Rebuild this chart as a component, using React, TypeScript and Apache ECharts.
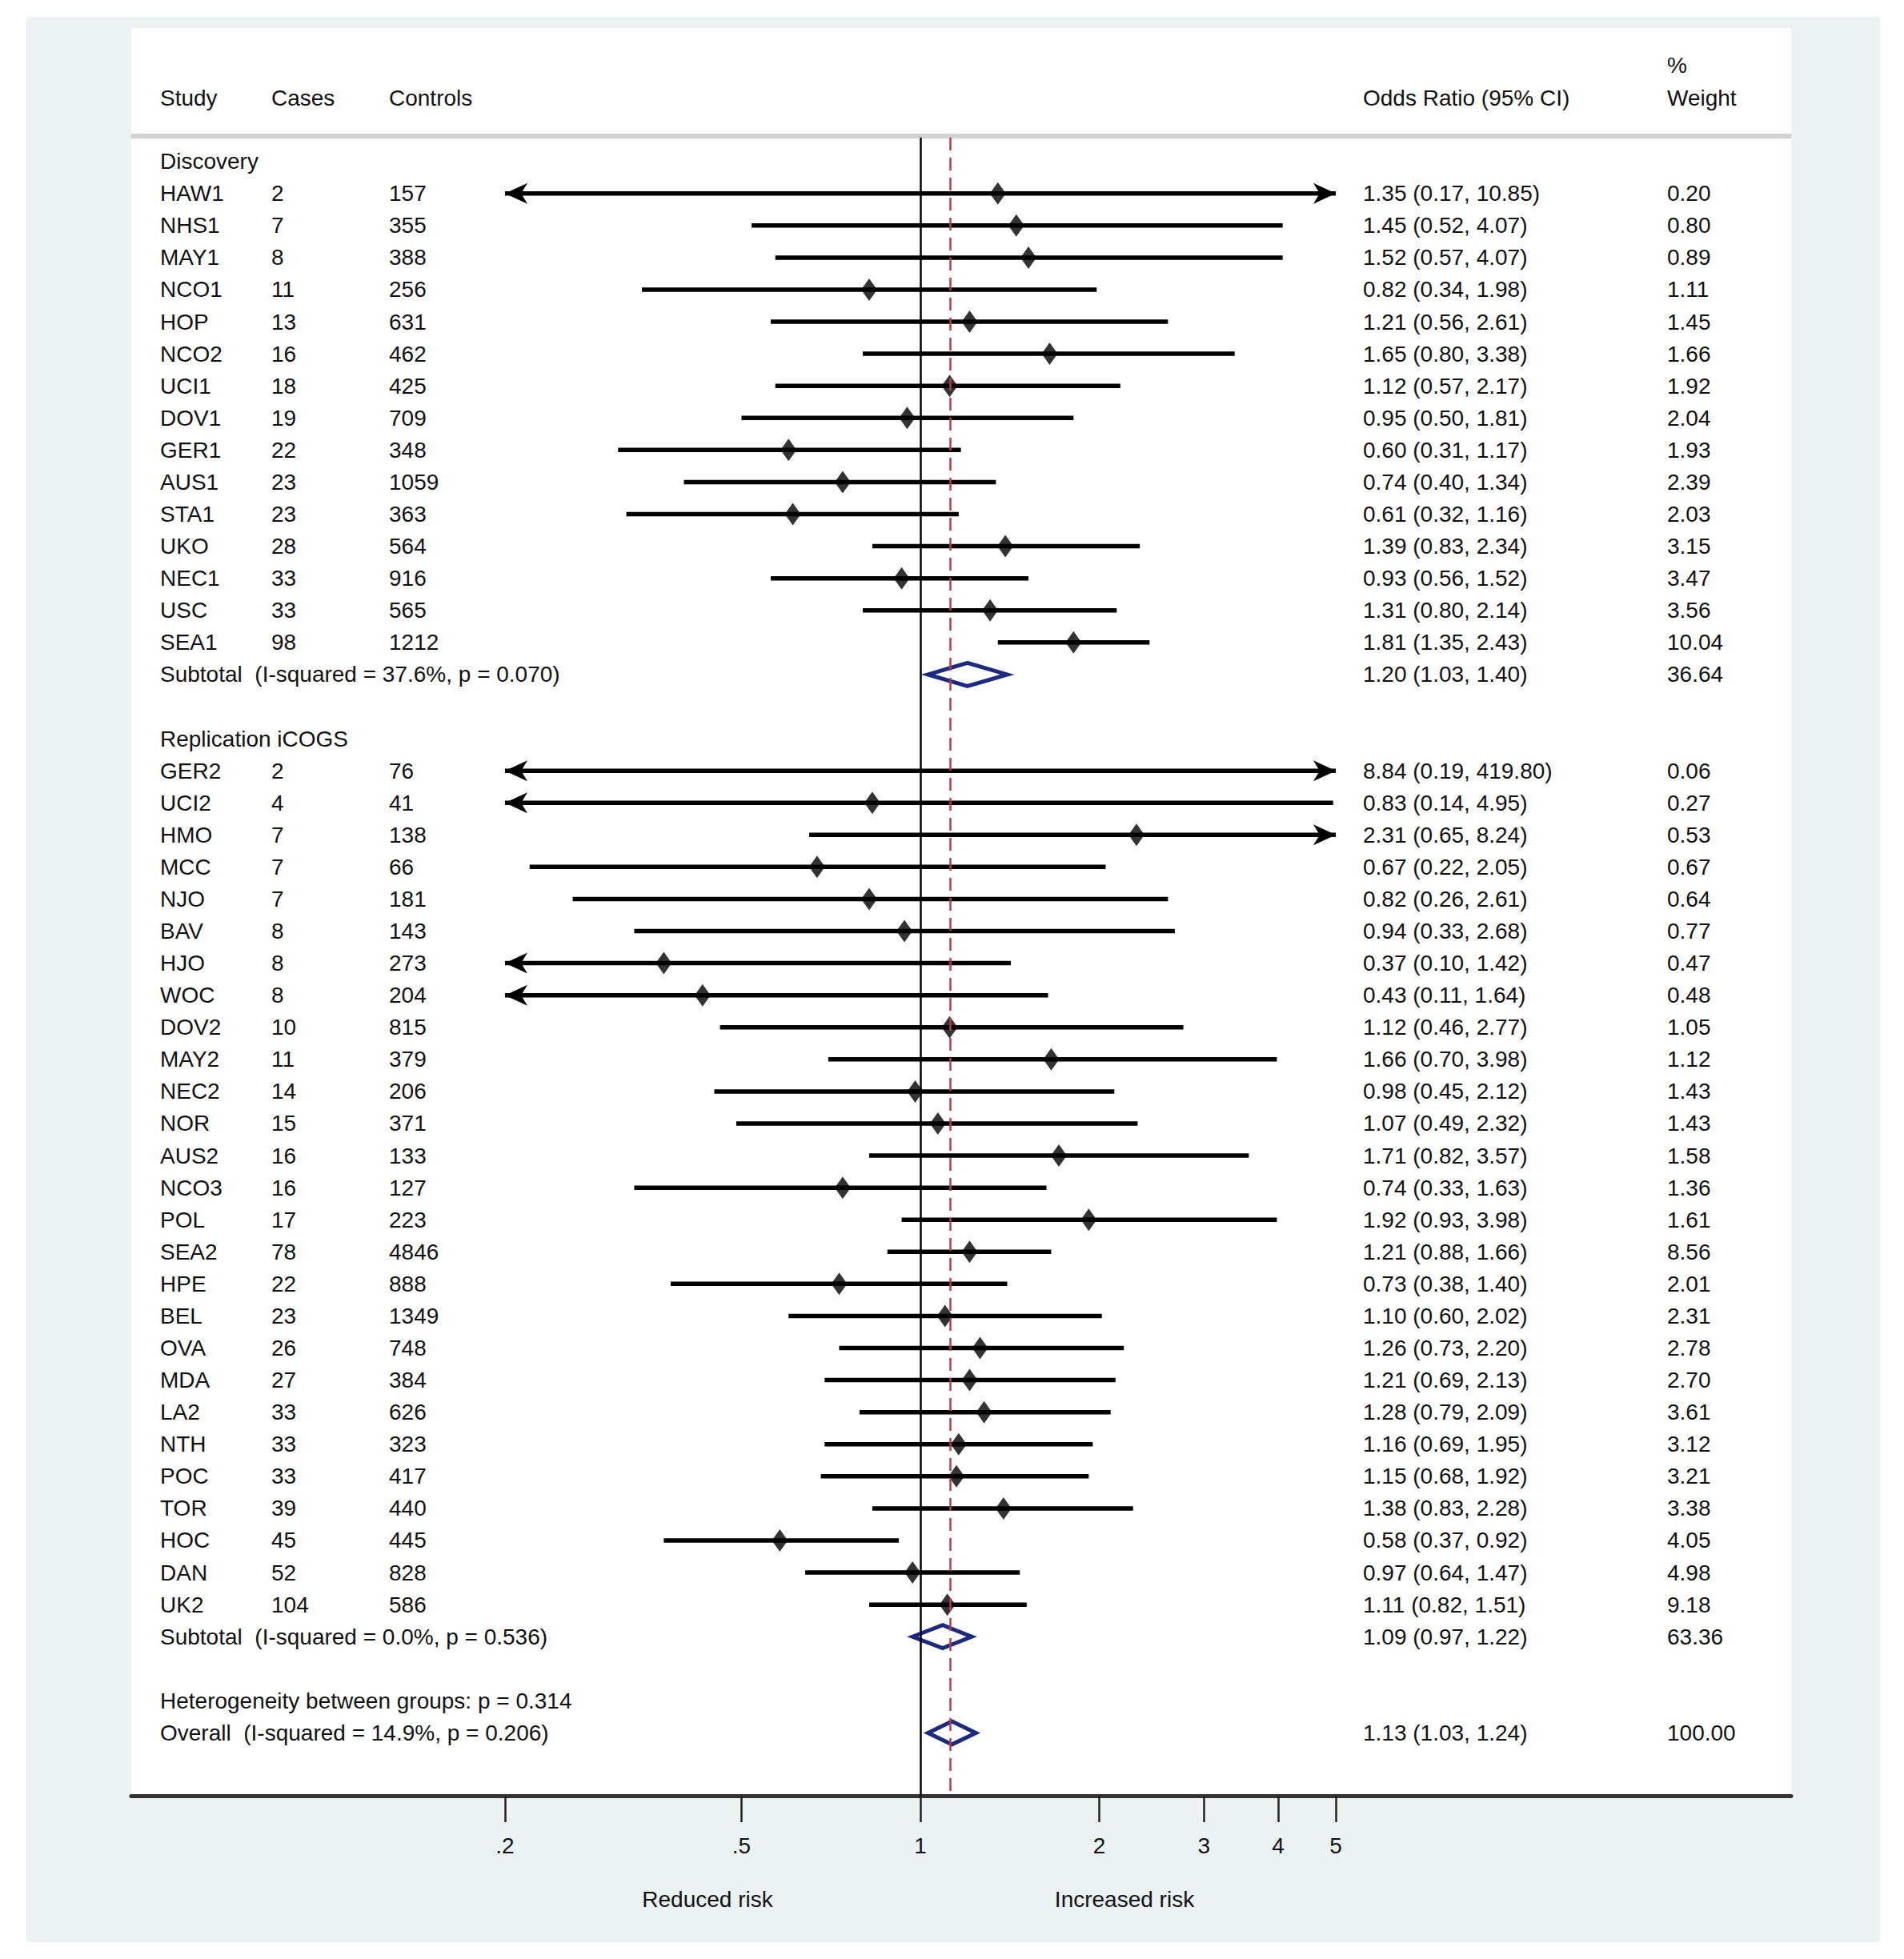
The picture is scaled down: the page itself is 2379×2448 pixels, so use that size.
import React, { useEffect, useRef } from "react";
import * as echarts from "echarts";

// ---------------- DATA ----------------
const discoveryStudies = ["HAW1", "NHS1", "MAY1", "NCO1", "HOP", "NCO2", "UCI1", "DOV1", "GER1", "AUS1", "STA1", "UKO", "NEC1", "USC", "SEA1"];
const discoveryCases = [2, 7, 8, 11, 13, 16, 18, 19, 22, 23, 23, 28, 33, 33, 98];
const discoveryControls = [157, 355, 388, 256, 631, 462, 425, 709, 348, 1059, 363, 564, 916, 565, 1212];
const discoveryOR = [1.35, 1.45, 1.52, 0.82, 1.21, 1.65, 1.12, 0.95, 0.6, 0.74, 0.61, 1.39, 0.93, 1.31, 1.81];
const discoveryLower = [0.17, 0.52, 0.57, 0.34, 0.56, 0.8, 0.57, 0.5, 0.31, 0.4, 0.32, 0.83, 0.56, 0.8, 1.35];
const discoveryUpper = [10.85, 4.07, 4.07, 1.98, 2.61, 3.38, 2.17, 1.81, 1.17, 1.34, 1.16, 2.34, 1.52, 2.14, 2.43];
const discoveryWeight = [0.2, 0.8, 0.89, 1.11, 1.45, 1.66, 1.92, 2.04, 1.93, 2.39, 2.03, 3.15, 3.47, 3.56, 10.04];

const replicationStudies = ["GER2", "UCI2", "HMO", "MCC", "NJO", "BAV", "HJO", "WOC", "DOV2", "MAY2", "NEC2", "NOR", "AUS2", "NCO3", "POL", "SEA2", "HPE", "BEL", "OVA", "MDA", "LA2", "NTH", "POC", "TOR", "HOC", "DAN", "UK2"];
const replicationCases = [2, 4, 7, 7, 7, 8, 8, 8, 10, 11, 14, 15, 16, 16, 17, 78, 22, 23, 26, 27, 33, 33, 33, 39, 45, 52, 104];
const replicationControls = [76, 41, 138, 66, 181, 143, 273, 204, 815, 379, 206, 371, 133, 127, 223, 4846, 888, 1349, 748, 384, 626, 323, 417, 440, 445, 828, 586];
const replicationOR = [8.84, 0.83, 2.31, 0.67, 0.82, 0.94, 0.37, 0.43, 1.12, 1.66, 0.98, 1.07, 1.71, 0.74, 1.92, 1.21, 0.73, 1.1, 1.26, 1.21, 1.28, 1.16, 1.15, 1.38, 0.58, 0.97, 1.11];
const replicationLower = [0.19, 0.14, 0.65, 0.22, 0.26, 0.33, 0.1, 0.11, 0.46, 0.7, 0.45, 0.49, 0.82, 0.33, 0.93, 0.88, 0.38, 0.6, 0.73, 0.69, 0.79, 0.69, 0.68, 0.83, 0.37, 0.64, 0.82];
const replicationUpper = [419.8, 4.95, 8.24, 2.05, 2.61, 2.68, 1.42, 1.64, 2.77, 3.98, 2.12, 2.32, 3.57, 1.63, 3.98, 1.66, 1.4, 2.02, 2.2, 2.13, 2.09, 1.95, 1.92, 2.28, 0.92, 1.47, 1.51];
const replicationWeight = [0.06, 0.27, 0.53, 0.67, 0.64, 0.77, 0.47, 0.48, 1.05, 1.12, 1.43, 1.43, 1.58, 1.36, 1.61, 8.56, 2.01, 2.31, 2.78, 2.7, 3.61, 3.12, 3.21, 3.38, 4.05, 4.98, 9.18];

const summaryLabels = [
  "Subtotal  (I-squared = 37.6%, p = 0.070)",
  "Subtotal  (I-squared = 0.0%, p = 0.536)",
  "Overall  (I-squared = 14.9%, p = 0.206)",
];
const summaryOR = [1.2, 1.09, 1.13];
const summaryLower = [1.03, 0.97, 1.03];
const summaryUpper = [1.4, 1.22, 1.24];
const summaryWeight = [36.64, 63.36, 100.0];

const groupLabels = ["Discovery", "Replication iCOGS"];
const heterogeneityLabel = "Heterogeneity between groups: p = 0.314";
const columnHeaders = ["Study", "Cases", "Controls", "Odds Ratio (95% CI)", "%", "Weight"];
const tickValues = [0.2, 0.5, 1, 2, 3, 4, 5];
const tickLabels = [".2", ".5", "1", "2", "3", "4", "5"];
const sideLabels = ["Reduced risk", "Increased risk"];
const overallOR = 1.13;

// ---------------- LAYOUT ----------------
const W = 2379;
const H = 2448;
const FONT = "'Liberation Sans', Arial, Helvetica, sans-serif";
const FS = 28;
const TXT = "#111111";
const GRID_L = 164;
const GRID_R = 2238;
const GRID_T = 172;
const GRID_B = 2244;
const CLIP_LO = 0.2;
const CLIP_HI = 5;
const PX_LO = 631;
const PX_HI = 1669;
const PPD = (PX_HI - PX_LO) / (Math.log10(CLIP_HI) - Math.log10(CLIP_LO));
const X_MIN = Math.log10(CLIP_LO) - (PX_LO - GRID_L) / PPD;
const X_MAX = Math.log10(CLIP_HI) + (GRID_R - PX_HI) / PPD;
const Y_MIN = -0.74;
const Y_MAX = 50.96;
const COL_STUDY = 200;
const COL_CASES = 339;
const COL_CONTROLS = 486;
const COL_OR = 1703;
const COL_WEIGHT = 2083;

const fmt = (v: number) => v.toFixed(2);
const orText = (o: number, l: number, u: number) => `${fmt(o)} (${fmt(l)}, ${fmt(u)})`;

type TextRow = { row: number; cols: { x: number; text: string }[] };
type StudyRow = { row: number; or: number; lo: number; hi: number };
type SumRow = { row: number; or: number; lo: number; hi: number };

function buildRows() {
  const textRows: TextRow[] = [];
  const studyRows: StudyRow[] = [];
  const sumRows: SumRow[] = [];
  let r = 0;
  const groups = [
    { label: groupLabels[0], names: discoveryStudies, cases: discoveryCases, controls: discoveryControls, or: discoveryOR, lo: discoveryLower, hi: discoveryUpper, w: discoveryWeight },
    { label: groupLabels[1], names: replicationStudies, cases: replicationCases, controls: replicationControls, or: replicationOR, lo: replicationLower, hi: replicationUpper, w: replicationWeight },
  ];
  groups.forEach((g, gi) => {
    textRows.push({ row: r, cols: [{ x: COL_STUDY, text: g.label }] });
    r++;
    g.names.forEach((n, i) => {
      textRows.push({
        row: r,
        cols: [
          { x: COL_STUDY, text: n },
          { x: COL_CASES, text: String(g.cases[i]) },
          { x: COL_CONTROLS, text: String(g.controls[i]) },
          { x: COL_OR, text: orText(g.or[i], g.lo[i], g.hi[i]) },
          { x: COL_WEIGHT, text: fmt(g.w[i]) },
        ],
      });
      studyRows.push({ row: r, or: g.or[i], lo: g.lo[i], hi: g.hi[i] });
      r++;
    });
    textRows.push({
      row: r,
      cols: [
        { x: COL_STUDY, text: summaryLabels[gi] },
        { x: COL_OR, text: orText(summaryOR[gi], summaryLower[gi], summaryUpper[gi]) },
        { x: COL_WEIGHT, text: fmt(summaryWeight[gi]) },
      ],
    });
    sumRows.push({ row: r, or: summaryOR[gi], lo: summaryLower[gi], hi: summaryUpper[gi] });
    r += 2;
  });
  textRows.push({ row: r, cols: [{ x: COL_STUDY, text: heterogeneityLabel }] });
  r++;
  textRows.push({
    row: r,
    cols: [
      { x: COL_STUDY, text: summaryLabels[2] },
      { x: COL_OR, text: orText(summaryOR[2], summaryLower[2], summaryUpper[2]) },
      { x: COL_WEIGHT, text: fmt(summaryWeight[2]) },
    ],
  });
  sumRows.push({ row: r, or: summaryOR[2], lo: summaryLower[2], hi: summaryUpper[2] });
  return { textRows, studyRows, sumRows };
}

export default function App() {
  const ref = useRef<HTMLDivElement>(null);
  useEffect(() => {
    document.body.style.margin = "0";
    if (!ref.current) return;
    const chart = echarts.init(ref.current, undefined, { renderer: "svg" });
    const { textRows, studyRows, sumRows } = buildRows();
    const L = Math.log10;
    const tickLog = tickValues.map((v) => L(v));

    const textStyle = (text: string) => ({
      text,
      fill: TXT,
      fontSize: FS,
      fontFamily: FONT,
      align: "left",
      verticalAlign: "middle",
    });

    const option: any = {
      animation: false,
      backgroundColor: "#ffffff",
      grid: { left: GRID_L, top: GRID_T, width: GRID_R - GRID_L, height: GRID_B - GRID_T, show: false },
      xAxis: {
        type: "value",
        min: X_MIN,
        max: X_MAX,
        axisLine: { show: true, onZero: false, lineStyle: { color: "#333333", width: 5 } },
        axisTick: { show: true, customValues: tickLog, length: 33, lineStyle: { color: "#222222", width: 2.5 } },
        axisLabel: {
          show: true,
          customValues: tickLog,
          margin: 48,
          fontSize: FS,
          fontFamily: FONT,
          color: TXT,
          formatter: (v: number) => {
            const i = tickLog.findIndex((t) => Math.abs(t - v) < 1e-6);
            return i >= 0 ? tickLabels[i] : "";
          },
        },
        splitLine: { show: false },
      },
      yAxis: { type: "value", inverse: true, min: Y_MIN, max: Y_MAX, show: false },
      graphic: [
        { type: "rect", z: -100, silent: true, shape: { x: 33, y: 21, width: 2316, height: 2406 }, style: { fill: "#eaf2f3" } },
        { type: "rect", z: -99, silent: true, shape: { x: GRID_L, y: 35, width: GRID_R - GRID_L, height: GRID_B - 35 }, style: { fill: "#ffffff" } },
        { type: "line", z: -98, silent: true, shape: { x1: GRID_L, y1: 170, x2: GRID_R, y2: 170 }, style: { stroke: "#d2d2d2", lineWidth: 6 } },
        { type: "text", x: COL_STUDY, y: 122, style: textStyle(columnHeaders[0]) },
        { type: "text", x: COL_CASES, y: 122, style: textStyle(columnHeaders[1]) },
        { type: "text", x: COL_CONTROLS, y: 122, style: textStyle(columnHeaders[2]) },
        { type: "text", x: COL_OR, y: 122, style: textStyle(columnHeaders[3]) },
        { type: "text", x: COL_WEIGHT, y: 81, style: textStyle(columnHeaders[4]) },
        { type: "text", x: COL_WEIGHT, y: 122, style: textStyle(columnHeaders[5]) },
        { type: "text", x: 884, y: 2373, style: { ...textStyle(sideLabels[0]), align: "center" } },
        { type: "text", x: 1405, y: 2373, style: { ...textStyle(sideLabels[1]), align: "center" } },
      ],
      series: [
        {
          type: "scatter",
          z: 1,
          data: [],
          silent: true,
          markLine: {
            silent: true,
            symbol: ["none", "none"],
            label: { show: false },
            animation: false,
            data: [
              { xAxis: L(overallOR), lineStyle: { color: "#b53c4e", width: 2.5, type: [16, 9] } },
              { xAxis: 0, lineStyle: { color: "#000000", width: 2.5, type: "solid" } },
            ],
          },
        },
        {
          type: "custom",
          z: 3,
          silent: true,
          clip: false,
          data: studyRows.map((s) => [L(s.lo), L(s.hi), s.row]),
          encode: { x: [0, 1], y: 2 },
          renderItem: (params: any, api: any) => {
            const lo = api.value(0);
            const hi = api.value(1);
            const row = api.value(2);
            const loC = Math.max(lo, L(CLIP_LO));
            const hiC = Math.min(hi, L(CLIP_HI));
            const p1 = api.coord([loC, row]);
            const p2 = api.coord([hiC, row]);
            const y = p1[1];
            const AL = 28;
            const AH = 13;
            const children: any[] = [
              { type: "line", shape: { x1: p1[0], y1: y, x2: p2[0], y2: y }, style: { stroke: "#000000", lineWidth: 5.5 } },
            ];
            if (lo < L(CLIP_LO)) {
              const x = p1[0];
              children.push({
                type: "polygon",
                shape: { points: [[x, y], [x + AL, y - AH], [x + AL * 0.72, y], [x + AL, y + AH]] },
                style: { fill: "#000000" },
              });
            }
            if (hi > L(CLIP_HI)) {
              const x = p2[0];
              children.push({
                type: "polygon",
                shape: { points: [[x, y], [x - AL, y - AH], [x - AL * 0.72, y], [x - AL, y + AH]] },
                style: { fill: "#000000" },
              });
            }
            return { type: "group", children };
          },
        },
        {
          type: "scatter",
          z: 4,
          silent: true,
          symbol: "diamond",
          symbolSize: [20, 28],
          itemStyle: { color: "#000000" },
          data: studyRows.filter((s) => s.or >= CLIP_LO && s.or <= CLIP_HI).map((s) => [L(s.or), s.row]),
        },
        {
          type: "custom",
          z: 4,
          silent: true,
          clip: false,
          data: sumRows.map((s) => [L(s.lo), L(s.or), L(s.hi), s.row]),
          encode: { x: [0, 1, 2], y: 3 },
          renderItem: (params: any, api: any) => {
            const lo = api.value(0);
            const est = api.value(1);
            const hi = api.value(2);
            const row = api.value(3);
            const h = 0.36;
            const pts = [api.coord([lo, row]), api.coord([est, row - h]), api.coord([hi, row]), api.coord([est, row + h])];
            return {
              type: "polygon",
              shape: { points: pts },
              style: { fill: "none", stroke: "#1b2a80", lineWidth: 5, lineJoin: "miter" },
            };
          },
        },
        {
          type: "custom",
          z: 5,
          silent: true,
          clip: false,
          data: textRows.map((t) => [0, t.row]),
          encode: { x: 0, y: 1 },
          renderItem: (params: any, api: any) => {
            const tr = textRows[params.dataIndex];
            const y = api.coord([0, tr.row])[1];
            return {
              type: "group",
              children: tr.cols.map((c) => ({ type: "text", x: c.x, y, style: textStyle(c.text) })),
            };
          },
        },
      ],
    };
    chart.setOption(option);
    return () => chart.dispose();
  }, []);
  return <div ref={ref} style={{ width: W, height: H }} />;
}
